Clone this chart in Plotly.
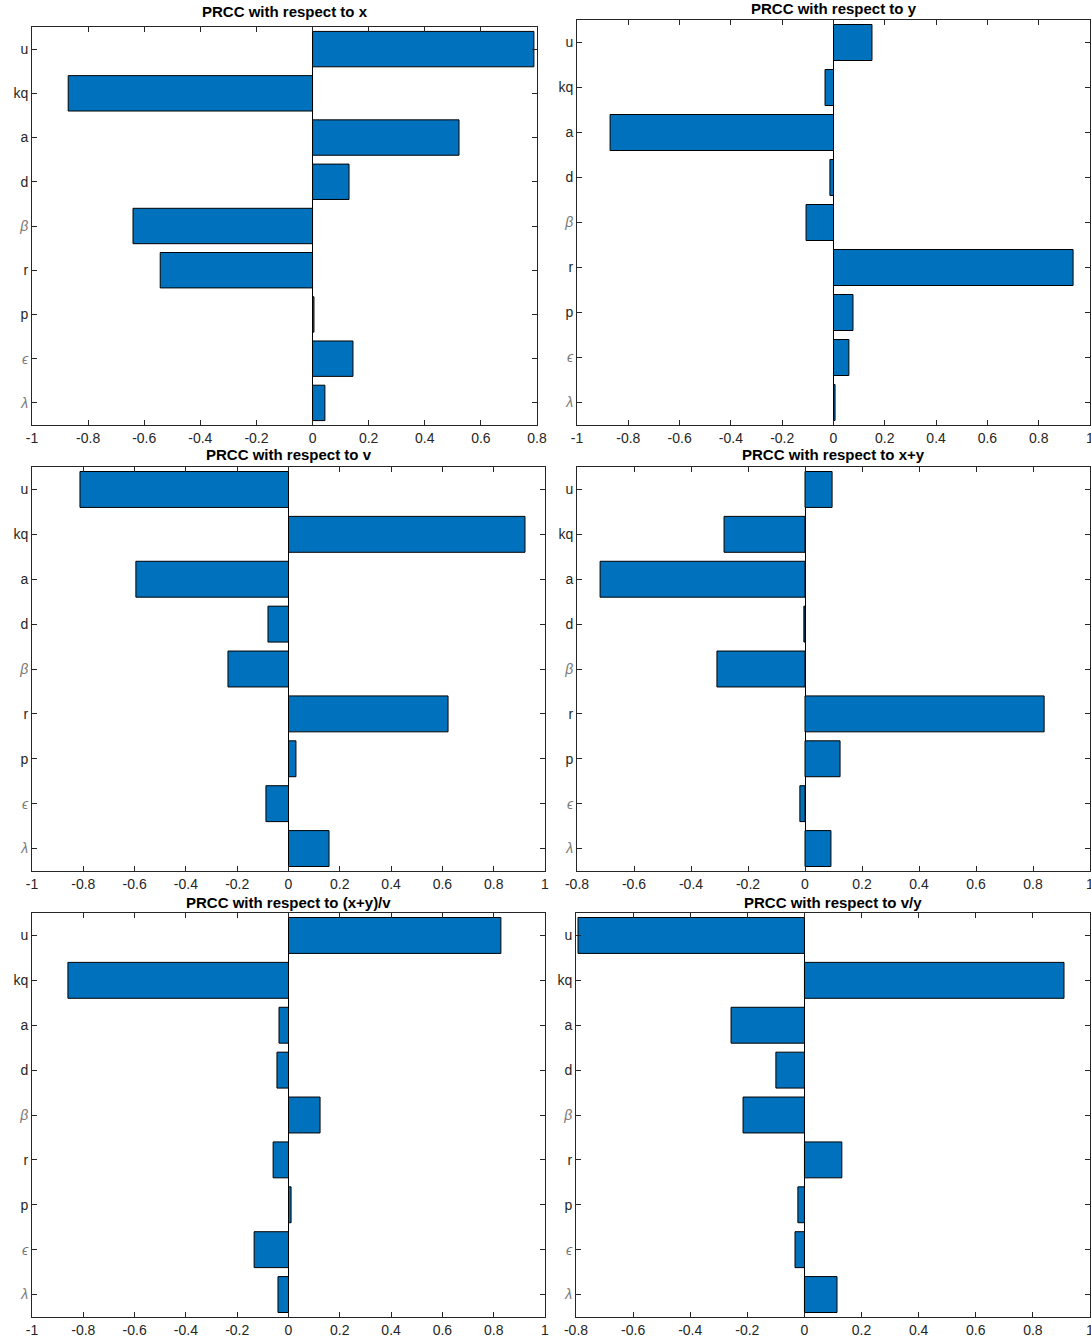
import plotly.graph_objects as go

W, H = 1091, 1343

# Categories bottom -> top (λ at bottom, u at top)
params = ["λ", "ϵ", "p", "r", "β", "d", "a", "kq", "u"]
tick_labels = [
    '<span style="color:#777"><i>λ</i></span>',
    '<span style="color:#777"><i>ϵ</i></span>',
    "p", "r",
    '<span style="color:#777"><i>β</i></span>',
    "d", "a", "kq", "u",
]

titles = [
    "PRCC with respect to x",
    "PRCC with respect to y",
    "PRCC with respect to v",
    "PRCC with respect to x+y",
    "PRCC with respect to (x+y)/v",
    "PRCC with respect to v/y",
]

# values, order: λ, ϵ, p, r, β, d, a, kq, u
prcc_x = [0.044, 0.144, 0.005, -0.543, -0.640, 0.130, 0.522, -0.871, 0.789]
prcc_y = [0.006, 0.060, 0.076, 0.934, -0.107, -0.014, -0.871, -0.033, 0.150]
prcc_v = [0.158, -0.088, 0.029, 0.622, -0.236, -0.080, -0.595, 0.922, -0.813]
prcc_xy = [0.091, -0.018, 0.123, 0.839, -0.309, -0.004, -0.719, -0.284, 0.095]
prcc_xyv = [-0.041, -0.134, 0.010, -0.060, 0.123, -0.045, -0.037, -0.860, 0.828]
prcc_vy = [0.114, -0.033, -0.023, 0.131, -0.215, -0.100, -0.257, 0.909, -0.793]

series = [prcc_x, prcc_y, prcc_v, prcc_xy, prcc_xyv, prcc_vy]
xranges = [(-1, 0.8), (-1, 1), (-1, 1), (-0.8, 1), (-1, 1), (-0.8, 1)]

# pixel boxes (left, right, top, bottom)
boxes = [
    (32, 537, 27, 425),
    (577, 1090, 20, 425),
    (32, 545, 467, 871),
    (577, 1090, 467, 871),
    (32, 545, 913, 1317),
    (576, 1090, 913, 1317),
]
title_y = [12, 8, 455, 455, 902, 902]

def fmt(v):
    s = ("%.1f" % v).rstrip("0").rstrip(".")
    if s in ("-0", ""):
        s = "0"
    return s

fig = go.Figure()
layout = dict(
    width=W, height=H,
    margin=dict(l=0, r=0, t=0, b=0, autoexpand=False),
    paper_bgcolor="white", plot_bgcolor="white",
    showlegend=False,
    font=dict(family="Liberation Sans, Arial, sans-serif", size=14, color="#262626"),
    annotations=[],
)

for i, (vals, xr, box, ttl, ty) in enumerate(zip(series, xranges, boxes, titles, title_y)):
    n = i + 1
    xa = "x" if n == 1 else f"x{n}"
    ya = "y" if n == 1 else f"y{n}"
    fig.add_trace(go.Bar(
        x=vals, y=list(range(1, 10)), orientation="h",
        width=0.8,
        marker=dict(color="#0072BD", line=dict(color="black", width=1)),
        xaxis=xa, yaxis=ya,
    ))
    l, r, t, b = box
    tv = []
    k = round(xr[0] * 10)
    while k <= round(xr[1] * 10):
        tv.append(k / 10)
        k += 2
    layout["xaxis" if n == 1 else f"xaxis{n}"] = dict(
        domain=[l / W, r / W], anchor=ya, range=list(xr),
        tickvals=tv, ticktext=[fmt(v) for v in tv],
        ticks="inside", ticklen=5, tickcolor="#262626",
        showline=True, linecolor="#262626", linewidth=1, mirror="ticks",
        showgrid=False, zeroline=True, zerolinecolor="black", zerolinewidth=1,
        tickfont=dict(size=14, color="#262626"), automargin=False,
        ticklabeloverflow="allow",
    )
    layout["yaxis" if n == 1 else f"yaxis{n}"] = dict(
        domain=[1 - b / H, 1 - t / H], anchor=xa, range=[0.5, 9.5],
        tickvals=list(range(1, 10)), ticktext=tick_labels,
        ticks="inside", ticklen=5, tickcolor="#262626",
        showline=True, linecolor="#262626", linewidth=1, mirror="ticks",
        showgrid=False, zeroline=False,
        tickfont=dict(size=14, color="#262626"), automargin=False,
    )
    layout["annotations"].append(dict(
        text=f"<b>{ttl}</b>", x=(l + r) / 2 / W, y=1 - ty / H,
        xref="paper", yref="paper", showarrow=False,
        xanchor="center", yanchor="middle",
        font=dict(size=15, color="black", family="Liberation Sans, Arial, sans-serif"),
    ))

fig.update_layout(**layout)
fig.write_html(
    "out.html",
    config={"displayModeBar": False},
    post_script="document.body.style.margin='0';document.body.style.overflow='hidden';",
)
